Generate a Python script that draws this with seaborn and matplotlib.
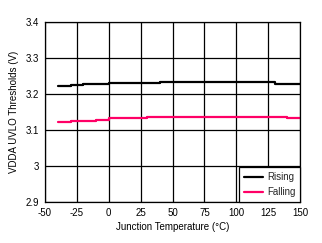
import numpy as np
import pandas as pd
import matplotlib
matplotlib.use("Agg")
import matplotlib.pyplot as plt
import seaborn as sns

# Data (step changes)
rising_temp = [-40, -30, -20, 0, 40, 130, 150]
rising_v = [3.221, 3.224, 3.227, 3.230, 3.2325, 3.229, 3.229]
falling_temp = [-40, -30, -10, 0, 30, 80, 90, 140, 150]
falling_v = [3.123, 3.126, 3.129, 3.132, 3.135, 3.137, 3.135, 3.132, 3.132]

x_ticks = [-50, -25, 0, 25, 50, 75, 100, 125, 150]
y_ticks = [2.9, 3.0, 3.1, 3.2, 3.3, 3.4]
y_tick_labels = ["2.9", "3", "3.1", "3.2", "3.3", "3.4"]

sns.set_theme(style="white")
plt.rcParams['font.family'] = ['Liberation Sans', 'DejaVu Sans']
plt.rcParams['axes.unicode_minus'] = False

df = pd.concat([
    pd.DataFrame({"Temp": rising_temp, "V": rising_v, "Series": "Rising"}),
    pd.DataFrame({"Temp": falling_temp, "V": falling_v, "Series": "Falling"}),
])

fig = plt.figure(figsize=(3.22, 2.43), dpi=100)
ax = fig.add_axes([45/322, 1-202/243, 255/322, 180/243])

sns.lineplot(data=df, x="Temp", y="V", hue="Series",
             palette={"Rising": "#000000", "Falling": "#FF0066"},
             drawstyle="steps-post", linewidth=1.6, ax=ax, legend=True)

fs = 7
ax.set_xlim(-50, 150)
ax.set_ylim(2.9, 3.4)
ax.set_xticks(x_ticks)
ax.set_xticklabels([str(t) for t in x_ticks])
ax.set_yticks(y_ticks)
ax.set_yticklabels(y_tick_labels)
ax.grid(True, color="black", linewidth=0.9)
ax.set_axisbelow(True)
for s in ax.spines.values():
    s.set_color("black")
    s.set_linewidth(0.9)
ax.tick_params(axis="both", length=0, labelsize=fs, colors="black", pad=4)
ax.set_xlabel("Junction Temperature (\u00b0C)", fontsize=fs, color="black", labelpad=3)
ax.set_ylabel("VDDA UVLO Thresholds (V)", fontsize=fs, color="black", labelpad=5)

leg = ax.legend(loc="lower right", fontsize=fs, frameon=True, fancybox=False,
                handlelength=2.0, borderaxespad=0, framealpha=1,
                labelspacing=0.5, borderpad=0.5, handletextpad=0.35)
leg.get_frame().set_edgecolor("black")
leg.get_frame().set_linewidth(0.9)
leg.set_title(None)

fig.savefig("out.png", dpi=100)
